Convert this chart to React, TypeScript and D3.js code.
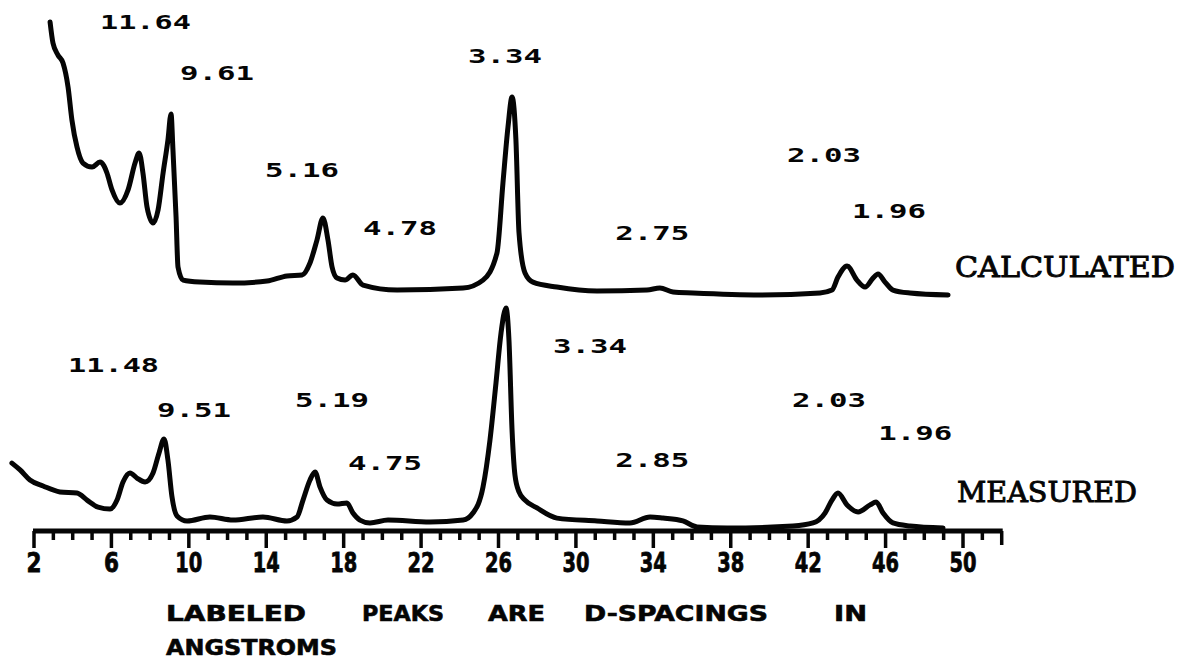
import React from 'react';
import * as d3 from 'd3';

// ---- Data (2-theta in degrees, relative intensity) ----
const calcTheta = [2.83, 2.98, 3.24, 3.5, 3.76, 3.96, 4.22, 4.53, 5.0, 5.41, 5.62, 5.77, 6.03, 6.44, 6.86, 7.22, 7.43, 7.63, 7.84, 8.15, 8.41, 8.67, 8.92, 9.08, 9.18, 9.34, 9.44, 9.7, 10.58, 12.28, 14.04, 15.07, 15.85, 16.26, 16.62, 16.93, 17.19, 17.4, 17.66, 18.07, 18.48, 19.0, 20.76, 24.17, 25.2, 25.92, 26.23, 26.49, 26.7, 26.9, 27.06, 27.37, 27.78, 29.02, 31.09, 33.67, 34.34, 35.02, 36.05, 39.51, 42.61, 43.23, 43.54, 44.01, 44.52, 44.94, 45.35, 45.61, 45.97, 46.38, 47.26, 49.23];
const calcIntensity = [137.7, 127.1, 121.1, 117.1, 105.0, 88.4, 74.9, 66.8, 64.8, 67.3, 65.3, 61.8, 53.3, 46.7, 53.3, 66.8, 71.9, 61.8, 44.7, 36.7, 43.2, 61.8, 78.4, 91.5, 73.4, 39.7, 14.6, 8.0, 7.0, 6.5, 7.5, 10.1, 10.6, 16.6, 28.1, 39.2, 28.1, 14.6, 9.0, 8.0, 10.6, 5.5, 3.0, 4.0, 8.0, 21.6, 56.8, 84.9, 100, 78.4, 31.7, 11.6, 7.0, 4.5, 2.5, 3.0, 4.0, 2.0, 1.5, 0.5, 1.5, 3.0, 9.5, 15.1, 8.0, 4.5, 9.0, 11.1, 7.0, 3.0, 1.5, 0.5];

const measTheta = [0.86, 1.28, 1.79, 2.47, 3.34, 4.22, 4.74, 5.31, 5.93, 6.29, 6.6, 6.96, 7.32, 7.74, 8.15, 8.46, 8.72, 8.92, 9.13, 9.39, 9.91, 11.09, 12.28, 13.83, 15.07, 15.59, 15.9, 16.26, 16.52, 16.78, 17.14, 17.66, 18.17, 18.48, 18.84, 19.36, 20.29, 22.46, 24.17, 24.68, 25.2, 25.56, 25.87, 26.13, 26.39, 26.54, 26.7, 26.85, 27.06, 27.37, 27.99, 29.02, 31.09, 32.79, 33.83, 34.5, 35.53, 36.26, 37.81, 41.22, 42.25, 42.87, 43.23, 43.54, 44.01, 44.58, 45.2, 45.51, 45.87, 46.38, 47.26, 48.97];
const measIntensity = [29.5, 26.4, 21.8, 19.1, 16.4, 15.9, 12.7, 9.5, 8.6, 12.7, 20.9, 25.0, 22.7, 20.9, 25.0, 34.1, 40.5, 30.9, 14.1, 5.5, 3.2, 5.0, 3.6, 5.0, 3.2, 5.0, 12.7, 21.8, 25.5, 18.6, 12.7, 10.9, 11.4, 6.8, 3.6, 2.3, 3.6, 2.7, 3.6, 6.8, 18.6, 40.0, 65.9, 88.6, 100, 85.5, 44.5, 24.1, 16.4, 12.7, 9.1, 4.5, 3.2, 2.3, 5.0, 4.5, 3.2, 0.5, 0, 0.9, 2.3, 6.8, 12.7, 15.9, 10.5, 7.3, 10.5, 11.8, 6.8, 2.3, 0.9, 0];

// peak labels (d-spacings in angstroms) with their anchor (2-theta, level)
const calcLabelText = ['11.64', '9.61', '5.16', '4.78', '3.34', '2.75', '2.03', '1.96'];
const calcLabelTheta = [5.41, 9.55, 13.94, 19.0, 24.43, 32.03, 40.91, 44.27];
const calcLabelLevel = [134.2, 108.5, 59.8, 30.7, 117.1, 28.1, 67.3, 39.2];

const measLabelText = ['11.48', '9.51', '5.19', '4.75', '3.34', '2.85', '2.03', '1.96'];
const measLabelTheta = [3.76, 8.36, 15.49, 18.23, 28.82, 32.03, 41.17, 45.62];
const measLabelLevel = [70.9, 50.5, 55.0, 26.4, 79.5, 27.7, 55.0, 40.0];

const tickLabels = ['2', '6', '10', '14', '18', '22', '26', '30', '34', '38', '42', '46', '50'];
const axisEnd = 52;

const seriesNames = ['CALCULATED', 'MEASURED'];
const captionWords = ['LABELED', 'PEAKS', 'ARE', 'D-SPACINGS', 'IN'];
const captionWord2 = 'ANGSTROMS';

const W = 1182;
const H = 662;
const INK = '#050505';

export default function App() {
  const x = d3.scaleLinear().domain([2, 50]).range([34, 963]);
  const yCalc = d3.scaleLinear().domain([0, 100]).range([296, 97]);
  const yMeas = d3.scaleLinear().domain([0, 100]).range([528, 308]);
  const axisY = 531;

  const mkLine = (th: number[], y: d3.ScaleLinear<number, number>) =>
    d3
      .line<number>()
      .x((_, i) => x(th[i]))
      .y((d) => y(d))
      .curve(d3.curveMonotoneX);

  const calcPath = mkLine(calcTheta, yCalc)(calcIntensity) || '';
  const measPath = mkLine(measTheta, yMeas)(measIntensity) || '';

  const majorVals = tickLabels.map(Number);
  const allTicks = d3.range(2, axisEnd + 1);

  const peakFont = {
    fontFamily: '"DejaVu Sans Mono", monospace',
    fontWeight: 700,
    fontSize: 20,
    fill: INK,
  } as const;

  const nameFont = {
    fontFamily: '"DejaVu Serif", "Liberation Serif", serif',
    fontWeight: 400,
    fontSize: 28,
    fill: INK,
    stroke: INK,
    strokeWidth: 0.9,
  } as const;

  const captionX = [166, 362, 488, 584, 834];
  const captionW = [140, 82, 57, 184, 33];

  return (
    <svg
      width={W}
      height={H}
      style={{ position: 'absolute', left: 0, top: 0, background: '#fff' }}
    >
      <rect x={0} y={0} width={W} height={H} fill="#fff" />
      {/* traces */}
      <path d={calcPath} fill="none" stroke={INK} strokeWidth={5} strokeLinejoin="round" strokeLinecap="round" />
      <path d={measPath} fill="none" stroke={INK} strokeWidth={5} strokeLinejoin="round" strokeLinecap="round" />

      {/* peak labels */}
      {calcLabelText.map((t, i) => (
        <text
          key={'c' + i}
          x={x(calcLabelTheta[i])}
          y={yCalc(calcLabelLevel[i])}
          {...peakFont}
          textLength={t.length === 5 ? 91 : 74}
          lengthAdjust="spacingAndGlyphs"
        >
          {t}
        </text>
      ))}
      {measLabelText.map((t, i) => (
        <text
          key={'m' + i}
          x={x(measLabelTheta[i])}
          y={yMeas(measLabelLevel[i])}
          {...peakFont}
          textLength={t.length === 5 ? 91 : 74}
          lengthAdjust="spacingAndGlyphs"
        >
          {t}
        </text>
      ))}

      {/* series names */}
      <text x={955} y={yCalc(0) - 19} {...nameFont} textLength={220} lengthAdjust="spacingAndGlyphs">
        {seriesNames[0]}
      </text>
      <text x={957} y={yMeas(0) - 26} {...nameFont} textLength={180} lengthAdjust="spacingAndGlyphs">
        {seriesNames[1]}
      </text>

      {/* axis */}
      <line x1={x(2) - 1} x2={x(axisEnd) + 1} y1={axisY} y2={axisY} stroke={INK} strokeWidth={5} />
      {allTicks.map((v) => {
        const major = majorVals.includes(v);
        const len = major ? 17 : v === axisEnd ? 14 : 9;
        return (
          <line
            key={'t' + v}
            x1={x(v)}
            x2={x(v)}
            y1={axisY}
            y2={axisY + len}
            stroke={INK}
            strokeWidth={3.5}
          />
        );
      })}
      {tickLabels.map((t) => (
        <text
          key={'l' + t}
          x={x(Number(t))}
          y={572}
          textAnchor="middle"
          fontFamily='"DejaVu Sans", sans-serif'
          fontWeight={700}
          fontSize={26}
          fill={INK}
          stroke={INK}
          strokeWidth={0.8}
          textLength={t.length === 2 ? 27 : 15}
          lengthAdjust="spacingAndGlyphs"
        >
          {t}
        </text>
      ))}

      {/* caption */}
      {captionWords.map((w, i) => (
        <text
          key={'w' + i}
          x={captionX[i]}
          y={621}
          fontFamily='"DejaVu Sans", sans-serif'
          fontWeight={700}
          fontSize={22}
          fill={INK}
          stroke={INK}
          strokeWidth={0.6}
          textLength={captionW[i]}
          lengthAdjust="spacingAndGlyphs"
        >
          {w}
        </text>
      ))}
      <text
        x={166}
        y={655}
        fontFamily='"DejaVu Sans", sans-serif'
        fontWeight={700}
        fontSize={22}
        fill={INK}
        stroke={INK}
        strokeWidth={0.6}
        textLength={171}
        lengthAdjust="spacingAndGlyphs"
      >
        {captionWord2}
      </text>
    </svg>
  );
}
